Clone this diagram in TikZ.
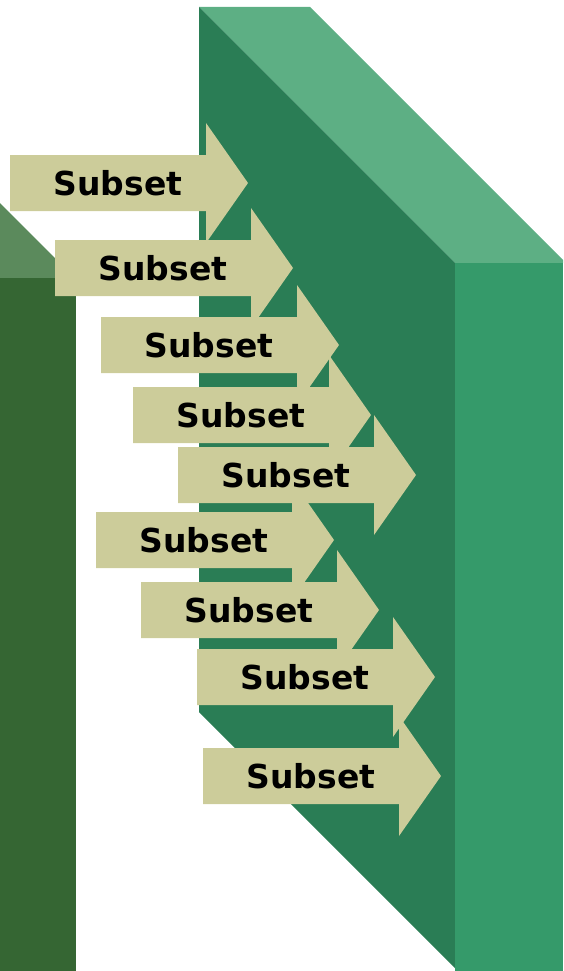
\documentclass[tikz,border=0pt]{standalone}
\usepackage{fontspec}
\setmainfont{DejaVu Sans}

\definecolor{leftTop}{RGB}{91,138,92}
\definecolor{leftFront}{RGB}{53,102,51}
\definecolor{wallTop}{RGB}{93,175,132}
\definecolor{wallFront}{RGB}{42,125,85}
\definecolor{wallSide}{RGB}{53,154,106}
\definecolor{arrowFill}{RGB}{204,204,154}

\begin{document}
\begin{tikzpicture}[x=1pt, y=-1pt,
    subsetArrow/.style={fill=arrowFill},
    subsetText/.style={font=\bfseries\fontsize{33}{33}\selectfont, text=black, inner sep=0pt}]

        % frame of the picture
        \useasboundingbox (0,0) rectangle (563,971);
        \clip (0,0) rectangle (563,971);

        % left wall, only its edge shows
        \fill[leftTop] (0,203) -- (75,278) -- (0,278) -- cycle;
        \fill[leftFront] (0,278) rectangle (76,971);

        % right wall
        \fill[wallTop] (199,7) -- (310,7) -- (566,263) -- (455,263) -- cycle;
        \fill[wallFront] (199,7) -- (455,263) -- (455,968) -- (199,712) -- cycle;
        \fill[wallSide] (455,263) rectangle (563,971);

        % arrows: left end of body / middle height
        \def\arrowlist{10/183, 55/268, 101/345, 133/415, 178/475, 96/540, 141/610, 197/677, 203/776}

        \foreach \x/\y in \arrowlist
            \fill[subsetArrow] (\x,{\y-28}) -- ({\x+196},{\y-28}) -- ({\x+196},{\y-60})
                -- ({\x+238},\y) -- ({\x+196},{\y+60}) -- ({\x+196},{\y+28}) -- (\x,{\y+28}) -- cycle;

        % labels on top
        \foreach \x/\y [count=\i] in \arrowlist
            \node[subsetText] (subset\i) at ({\x+108},\y) {Subset};
\end{tikzpicture}
\end{document}
